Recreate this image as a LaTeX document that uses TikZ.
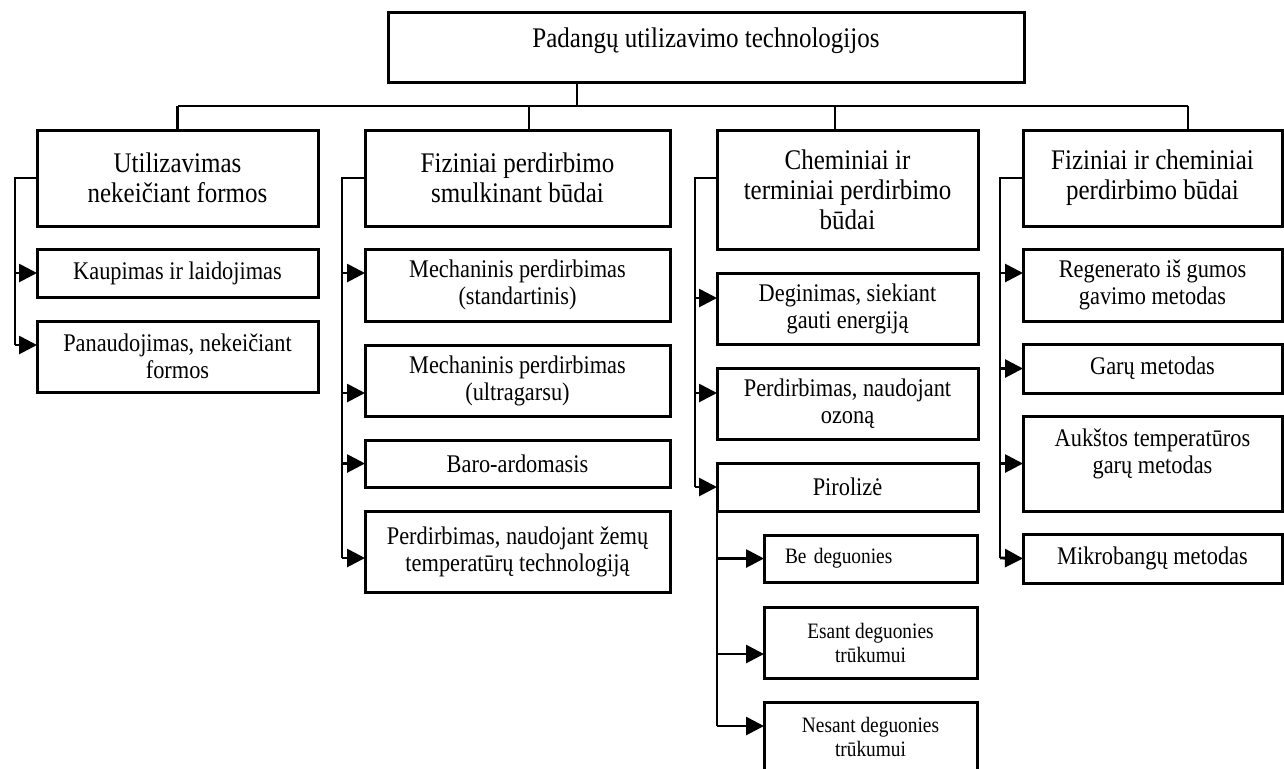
\documentclass[tikz,border=0pt]{standalone}
\usepackage{fontspec}
\setmainfont{Liberation Serif}[FakeStretch=0.88]
\usetikzlibrary{arrows.meta}
\begin{document}
\begin{tikzpicture}[x=0.5pt,y=-0.5pt,
  bx/.style={draw, line width=1.5pt, inner sep=0pt, outer sep=0pt, align=center},
  l1/.style={bx, font=\fontsize{14.2}{15}\selectfont},
  l2/.style={bx, font=\fontsize{12.7}{13.5}\selectfont},
  l3/.style={bx, font=\fontsize{11}{12}\selectfont},
  ln/.style={line width=1.4pt},
  arr/.style={ln, -{Triangle[length=9pt,width=9pt]}},
]
\useasboundingbox (0,0) rectangle (1284,768);

% top and level 1
\node[l1, minimum width=318pt, minimum height=35pt, text depth=9.5pt] (top) at (706,47) {Padangų utilizavimo technologijos};
\node[l1, minimum width=140.5pt, minimum height=48pt] (b1) at (177.5,178) {Utilizavimas\\nekeičiant formos};
\node[l1, minimum width=152.5pt, minimum height=48pt] (b2) at (517.5,178) {Fiziniai perdirbimo\\smulkinant  būdai};
\node[l1, minimum width=130.5pt, minimum height=59.5pt] (b3) at (847.5,189.5) {Cheminiai ir\\terminiai perdirbimo\\būdai};
\node[l1, minimum width=129.5pt, minimum height=48pt] (b4) at (1152.5,178) {Fiziniai ir cheminiai\\perdirbimo būdai};

% column 1
\node[l2, minimum width=140.5pt, minimum height=24pt] (c11) at (177.5,273) {Kaupimas ir laidojimas};
\node[l2, minimum width=140.5pt, minimum height=35.5pt] (c12) at (177.5,356.5) {Panaudojimas, nekeičiant\\formos};

% column 2
\node[l2, minimum width=152.5pt, minimum height=36pt] (c21) at (517.5,285) {Mechaninis perdirbimas\\(standartinis)};
\node[l2, minimum width=152.5pt, minimum height=35.5pt] (c22) at (517.5,380.5) {Mechaninis perdirbimas\\(ultragarsu)};
\node[l2, minimum width=152.5pt, minimum height=23.5pt] (c23) at (517.5,463.5) {Baro-ardomasis};
\node[l2, minimum width=152.5pt, minimum height=40.5pt] (c24) at (517.5,551.5) {Perdirbimas, naudojant žemų\\temperatūrų technologiją};

% column 3
\node[l2, minimum width=130.5pt, minimum height=35.5pt] (c31) at (847.5,308.5) {Deginimas, siekiant\\gauti energiją};
\node[l2, minimum width=130.5pt, minimum height=35.5pt] (c32) at (847.5,403.5) {Perdirbimas, naudojant\\ozoną};
\node[l2, minimum width=130.5pt, minimum height=24pt] (c33) at (847.5,487) {Pirolizė};
\node[l3, align=left, text width=85.5pt, inner xsep=10.5pt, minimum height=23.5pt] (d1) at (870.5,558.5) {Be deguonies};
\node[l3, minimum width=106.5pt, minimum height=35.5pt] (d2) at (870.5,642.5) {Esant deguonies\\trūkumui};
\node[l3, minimum width=106.5pt, minimum height=35pt] (d3) at (870.5,737) {Nesant deguonies\\trūkumui};

% column 4
\node[l2, minimum width=129.5pt, minimum height=36pt] (c41) at (1152.5,285) {Regenerato iš gumos\\gavimo metodas};
\node[l2, minimum width=129.5pt, minimum height=24.5pt] (c42) at (1152.5,368.5) {Garų metodas};
\node[l2, minimum width=129.5pt, minimum height=47.5pt, text depth=12.5pt] (c43) at (1152.5,463.5) {Aukštos temperatūros\\garų metodas};
\node[l2, minimum width=129.5pt, minimum height=24.5pt] (c44) at (1152.5,558.5) {Mikrobangų metodas};

% top bus
\coordinate (st) at (577,106);
\coordinate (bl) at (177.5,106);
\coordinate (br) at (1188,106);
\coordinate (dB) at (529,106);
\coordinate (dC) at (835,106);
\draw[ln] (top.south -| st) -- (st);
\draw[ln] (bl) -- (br);
\draw[ln] (bl) -- (b1.north);
\draw[ln] (dB) -- (dB |- b2.north);
\draw[ln] (dC) -- (dC |- b3.north);
\draw[ln] (br) -- (br |- b4.north);

% column 1 spine
\coordinate (s1) at (15,178);
\coordinate (e1) at (15,345);
\draw[ln] (b1.west) -- (s1) -- (e1);
\draw[arr] (s1 |- c11.west) -- (c11.west);
\coordinate (a12) at ([yshift=5.75pt]c12.west);
\draw[arr] (e1) -- (a12);

% column 2 spine
\coordinate (s2) at (342,178);
\coordinate (e2) at (342,558);
\draw[ln] (b2.west) -- (s2) -- (e2);
\coordinate (a21) at ([yshift=6pt]c21.west);
\coordinate (a22) at ([yshift=-6.25pt]c22.west);
\coordinate (a24) at ([yshift=-3.25pt]c24.west);
\draw[arr] (s2 |- a21) -- (a21);
\draw[arr] (s2 |- a22) -- (a22);
\draw[arr] (s2 |- c23.west) -- (c23.west);
\draw[arr] (e2) -- (a24);

% column 3 spine
\coordinate (w3) at ([yshift=5.75pt]b3.west);
\coordinate (s3) at (695,178);
\coordinate (e3) at (695,487);
\draw[ln] (w3) -- (s3) -- (e3);
\coordinate (a31) at ([yshift=5.25pt]c31.west);
\coordinate (a32) at ([yshift=5.25pt]c32.west);
\draw[arr] (s3 |- a31) -- (a31);
\draw[arr] (s3 |- a32) -- (a32);
\draw[arr] (e3) -- (c33.west);

% pyrolysis sub-spine
\coordinate (e5) at (717,726);
\draw[ln] (c33.south west) -- (e5);
\coordinate (ad2) at ([yshift=-5.75pt]d2.west);
\coordinate (ad3) at ([yshift=5.5pt]d3.west);
\draw[arr] (e5 |- d1.west) -- (d1.west);
\draw[arr] (e5 |- ad2) -- (ad2);
\draw[arr] (e5) -- (ad3);

% column 4 spine
\coordinate (s4) at (1000,178);
\coordinate (e4) at (1000,558);
\draw[ln] (b4.west) -- (s4) -- (e4);
\coordinate (a41) at ([yshift=6pt]c41.west);
\draw[arr] (s4 |- a41) -- (a41);
\draw[arr] (s4 |- c42.west) -- (c42.west);
\draw[arr] (s4 |- c43.west) -- (c43.west);
\draw[arr] (e4) -- (c44.west);
\end{tikzpicture}
\end{document}
